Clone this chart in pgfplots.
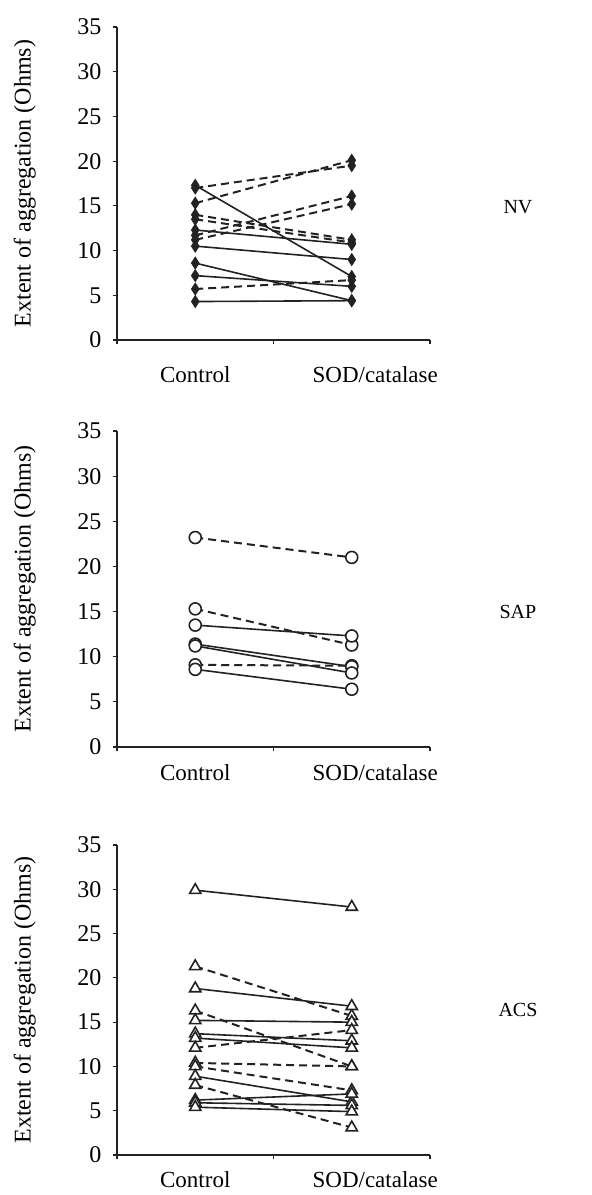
\documentclass[border=0pt]{standalone}
\usepackage{fontspec}
\setmainfont{Liberation Serif}
\usepackage{pgfplots}
\pgfplotsset{compat=1.18}
\definecolor{ink}{HTML}{222222}
\pgfplotsset{
  panel/.style={
    scale only axis, width=313pt,
    xmin=-0.5, xmax=1.5, ymin=0, ymax=35,
    ytick={0,5,...,35},
    xtick={-0.5,0.5,1.5}, xticklabels={},
    axis x line*=bottom, axis y line*=left,
    axis line style={line width=1.5pt, color=ink},
    tick style={line width=1.2pt, color=ink},
    tick align=outside, major tick length=4pt,
    /pgf/number format/assume math mode=true,
    yticklabel style={font=\fontsize{24}{24}\selectfont, xshift=-8pt},
    ylabel={Extent of aggregation (Ohms)},
    every axis y label/.style={at={(axis description cs:-0.295,0.5)}, rotate=90, anchor=center, font=\fontsize{24}{24}\selectfont},
    clip=false,
  },
  sl/.style={ink, line width=1.6pt, solid},
  dl/.style={ink, line width=2pt, dash pattern=on 8pt off 5pt},
  nv/.style={mark=diamond*, mark size=6pt, mark options={solid, fill=ink, draw=ink, line width=0.8pt, xscale=0.85}},
  sap/.style={mark=*, mark size=6pt, mark options={solid, fill=white, draw=ink, line width=1.6pt}},
  acs/.style={mark=triangle*, mark size=6.5pt, mark options={solid, fill=white, draw=ink, line width=1.6pt}},
}
\newcommand{\catlabels}[1]{%
  \node[font=\fontsize{23}{23}\selectfont] at (axis description cs:0.25,#1) {Control};
  \node[font=\fontsize{23}{23}\selectfont] at (axis description cs:0.825,#1) {SOD/catalase};
}
\begin{document}
\begin{tikzpicture}
\path (0,0) rectangle (592pt,-1195pt);
% ---------------- NV ----------------
\begin{axis}[panel, height=313pt, at={(117pt,-340pt)}, anchor=south west]
\addplot[sl, nv] coordinates {(0,17.3) (1,7.1)};
\addplot[sl, nv] coordinates {(0,12.3) (1,10.7)};
\addplot[sl, nv] coordinates {(0,10.5) (1,9.0)};
\addplot[sl, nv] coordinates {(0,8.6) (1,4.4)};
\addplot[sl, nv] coordinates {(0,7.2) (1,6.0)};
\addplot[sl, nv] coordinates {(0,4.3) (1,4.4)};
\addplot[dl, nv] coordinates {(0,17.0) (1,19.5)};
\addplot[dl, nv] coordinates {(0,15.3) (1,20.1)};
\addplot[dl, nv] coordinates {(0,14.0) (1,11.2)};
\addplot[dl, nv] coordinates {(0,13.5) (1,10.9)};
\addplot[dl, nv] coordinates {(0,11.7) (1,16.1)};
\addplot[dl, nv] coordinates {(0,11.2) (1,15.2)};
\addplot[dl, nv] coordinates {(0,5.7) (1,6.7)};
\catlabels{-0.112}
\node[font=\fontsize{20}{20}\selectfont] at (axis description cs:1.281,0.425) {NV};
\end{axis}
% ---------------- SAP ----------------
\begin{axis}[panel, height=316pt, at={(117pt,-747pt)}, anchor=south west]
\addplot[dl, sap] coordinates {(0,23.2) (1,21.0)};
\addplot[dl, sap] coordinates {(0,15.3) (1,11.3)};
\addplot[dl, sap] coordinates {(0,9.1) (1,9.0)};
\addplot[sl, sap] coordinates {(0,13.5) (1,12.3)};
\addplot[sl, sap] coordinates {(0,11.4) (1,8.9)};
\addplot[sl, sap] coordinates {(0,11.2) (1,8.2)};
\addplot[sl, sap] coordinates {(0,8.6) (1,6.4)};
\catlabels{-0.082}
\node[font=\fontsize{20}{20}\selectfont] at (axis description cs:1.281,0.428) {SAP};
\end{axis}
% ---------------- ACS ----------------
\begin{axis}[panel, height=310pt, at={(117pt,-1155pt)}, anchor=south west]
\addplot[sl, acs] coordinates {(0,29.9) (1,28.0)};
\addplot[dl, acs] coordinates {(0,21.3) (1,15.7)};
\addplot[sl, acs] coordinates {(0,18.8) (1,16.8)};
\addplot[dl, acs] coordinates {(0,16.3) (1,10.0)};
\addplot[sl, acs] coordinates {(0,15.2) (1,15.0)};
\addplot[sl, acs] coordinates {(0,13.7) (1,12.9)};
\addplot[sl, acs] coordinates {(0,13.2) (1,12.1)};
\addplot[dl, acs] coordinates {(0,12.1) (1,14.1)};
\addplot[dl, acs] coordinates {(0,10.4) (1,10.0)};
\addplot[dl, acs] coordinates {(0,10.0) (1,7.3)};
\addplot[sl, acs] coordinates {(0,8.9) (1,6.0)};
\addplot[dl, acs] coordinates {(0,7.9) (1,3.1)};
\addplot[sl, acs] coordinates {(0,6.2) (1,6.9)};
\addplot[sl, acs] coordinates {(0,5.9) (1,5.6)};
\addplot[sl, acs] coordinates {(0,5.4) (1,4.9)};
\catlabels{-0.08}
\node[font=\fontsize{20}{20}\selectfont] at (axis description cs:1.281,0.468) {ACS};
\end{axis}
\end{tikzpicture}
\end{document}
